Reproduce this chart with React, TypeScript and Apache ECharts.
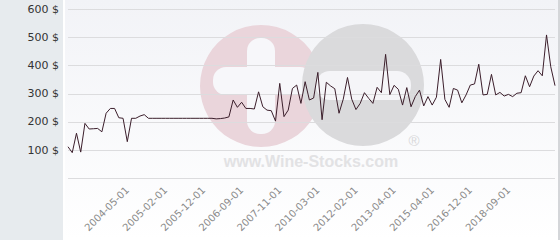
import React, { useEffect, useRef } from "react";
import * as echarts from "echarts";

const CATEGORIES = [
  "2003-03-01", "2003-04-01", "2003-05-01", "2003-06-01", "2003-07-01", "2003-08-01", "2003-09-01", "2003-10-01",
  "2003-11-01", "2003-12-01", "2004-01-01", "2004-02-01", "2004-03-01", "2004-04-01", "2004-05-01", "2004-06-01",
  "2004-07-01", "2004-08-01", "2004-09-01", "2004-10-01", "2004-11-01", "2004-12-01", "2005-01-01", "2005-02-01",
  "2005-03-01", "2005-04-01", "2005-05-01", "2005-06-01", "2005-08-01", "2005-09-01", "2005-10-01", "2005-11-01",
  "2005-12-01", "2006-01-01", "2006-02-01", "2006-03-01", "2006-04-01", "2006-05-01", "2006-06-01", "2006-07-01",
  "2006-08-01", "2006-09-01", "2006-11-01", "2007-01-01", "2007-03-01", "2007-04-01", "2007-06-01", "2007-07-01",
  "2007-08-01", "2007-10-01", "2007-11-01", "2008-02-01", "2008-05-01", "2008-09-01", "2008-12-01", "2009-03-01",
  "2009-06-01", "2009-09-01", "2009-12-01", "2010-03-01", "2010-06-01", "2010-09-01", "2010-11-01", "2011-01-01",
  "2011-04-01", "2011-06-01", "2011-09-01", "2011-11-01", "2012-02-01", "2012-03-01", "2012-05-01", "2012-06-01",
  "2012-08-01", "2012-09-01", "2012-11-01", "2013-01-01", "2013-02-01", "2013-04-01", "2013-07-01", "2013-09-01",
  "2013-12-01", "2014-03-01", "2014-05-01", "2014-08-01", "2014-10-01", "2015-01-01", "2015-04-01", "2015-06-01",
  "2015-09-01", "2015-11-01", "2016-01-01", "2016-03-01", "2016-05-01", "2016-07-01", "2016-10-01", "2016-12-01",
  "2017-02-01", "2017-04-01", "2017-07-01", "2017-09-01", "2017-11-01", "2018-01-01", "2018-03-01", "2018-06-01",
  "2018-09-01", "2018-11-01", "2019-01-01", "2019-03-01", "2019-06-01", "2019-08-01", "2019-10-01", "2019-12-01",
  "2020-02-01", "2020-04-01", "2020-07-01", "2020-09-01",
];

const PRICES = [
  112, 91, 160, 93, 195, 175, 176, 177, 165, 231, 248, 248, 215, 213, 130, 213,
  213, 221, 226, 213, 213, 213, 213, 213, 213, 213, 213, 213, 213, 213, 213, 213,
  213, 213, 213, 211, 212, 214, 218, 278, 252, 270, 248, 248, 246, 307, 254, 242,
  240, 203, 337, 219, 242, 319, 331, 266, 343, 278, 285, 376, 208, 341, 328, 318,
  231, 281, 358, 281, 244, 266, 304, 284, 266, 323, 304, 440, 297, 330, 316, 260,
  322, 254, 290, 313, 257, 290, 260, 288, 422, 280, 252, 319, 313, 268, 296, 331,
  335, 405, 296, 298, 369, 296, 305, 292, 298, 290, 302, 304, 364, 325, 363, 382,
  364, 509, 396, 329,
];

const TICK_LABELS = [
  "2004-05-01", "2005-02-01", "2005-12-01", "2006-09-01", "2007-11-01", "2010-03-01",
  "2012-02-01", "2013-04-01", "2015-04-01", "2016-12-01", "2018-09-01",
];

const Y_MIN = 0;
const Y_MAX = 600;
const Y_STEP = 100;

export default function App() {
  const ref = useRef<HTMLDivElement>(null);

  useEffect(() => {
    document.body.style.margin = "0";
    const chart = echarts.init(ref.current!, null, { renderer: "svg" });
    chart.setOption({
      animation: false,
      textStyle: { fontFamily: "DejaVu Sans" },
      graphic: [
        { type: "rect", z: 0, shape: { x: 0, y: 0, width: 63, height: 240 }, style: { fill: "#e7ebee" } },
        { type: "rect", z: 0, shape: { x: 63, y: 0, width: 2, height: 240 }, style: { fill: "#ffffff" } },
        {
          type: "rect",
          z: 0,
          shape: { x: 65, y: 0, width: 493, height: 240 },
          style: {
            fill: {
              type: "linear", x: 0, y: 0, x2: 0, y2: 1,
              colorStops: [
                { offset: 0, color: "#f2f3f7" },
                { offset: 1, color: "#ffffff" },
              ],
            },
          },
        },
        { type: "rect", z: 0, shape: { x: 558, y: 0, width: 2, height: 240 }, style: { fill: "#d4d6d9" } },
        { type: "circle", z: 1, shape: { cx: 261, cy: 86, r: 61 }, style: { fill: "#ead5db" } },
        { type: "rect", z: 2, shape: { x: 247, y: 38, width: 28, height: 96, r: 13 }, style: { fill: "#f7f7fa" } },
        { type: "rect", z: 2, shape: { x: 213, y: 67, width: 100, height: 28, r: 13 }, style: { fill: "#f7f7fa" } },
        { type: "circle", z: 3, shape: { cx: 363, cy: 85, r: 61 }, style: { fill: "#dadadc" } },
        { type: "rect", z: 4, shape: { x: 316, y: 71, width: 95, height: 29, r: 14 }, style: { fill: "#f5f5f8" } },
        {
          type: "text", z: 4, x: 311, y: 161,
          style: {
            text: "www.Wine-Stocks.com", fill: "#e2e2e4", font: "bold 16px 'Liberation Sans', Arial, sans-serif",
            align: "center", verticalAlign: "middle",
          },
        },
        {
          type: "text", z: 4, x: 414, y: 140,
          style: { text: "®", fill: "#d8d8da", font: "15px 'Liberation Sans', Arial, sans-serif", align: "center", verticalAlign: "middle" },
        },
      ],
      grid: { left: 68, right: 5, top: 9.3, bottom: 61.7, containLabel: false },
      xAxis: {
        type: "category",
        z: 10,
        data: CATEGORIES,
        boundaryGap: false,
        axisLine: { show: false },
        axisTick: { show: false },
        splitLine: { show: false },
        axisLabel: {
          interval: (_i: number, v: string) => TICK_LABELS.includes(v),
          rotate: 45,
          margin: 10,
          fontSize: 10,
          color: "#8a8a8a",
          fontFamily: "DejaVu Sans",
        },
      },
      yAxis: {
        type: "value",
        z: 10,
        min: Y_MIN,
        max: Y_MAX,
        interval: Y_STEP,
        axisLine: { show: false },
        axisTick: { show: false },
        splitLine: { lineStyle: { color: "#dcdcde", width: 1 } },
        axisLabel: {
          formatter: (v: number) => `${v} $`,
          showMinLabel: false,
          margin: 9,
          fontSize: 11,
          color: "#333333",
          fontFamily: "DejaVu Sans",
        },
      },
      series: [
        {
          type: "line",
          z: 12,
          data: PRICES,
          symbol: "none",
          lineStyle: { color: "#3b1e2b", width: 1 },
        },
      ],
    });
    return () => chart.dispose();
  }, []);

  return <div ref={ref} style={{ width: 560, height: 240 }} />;
}
